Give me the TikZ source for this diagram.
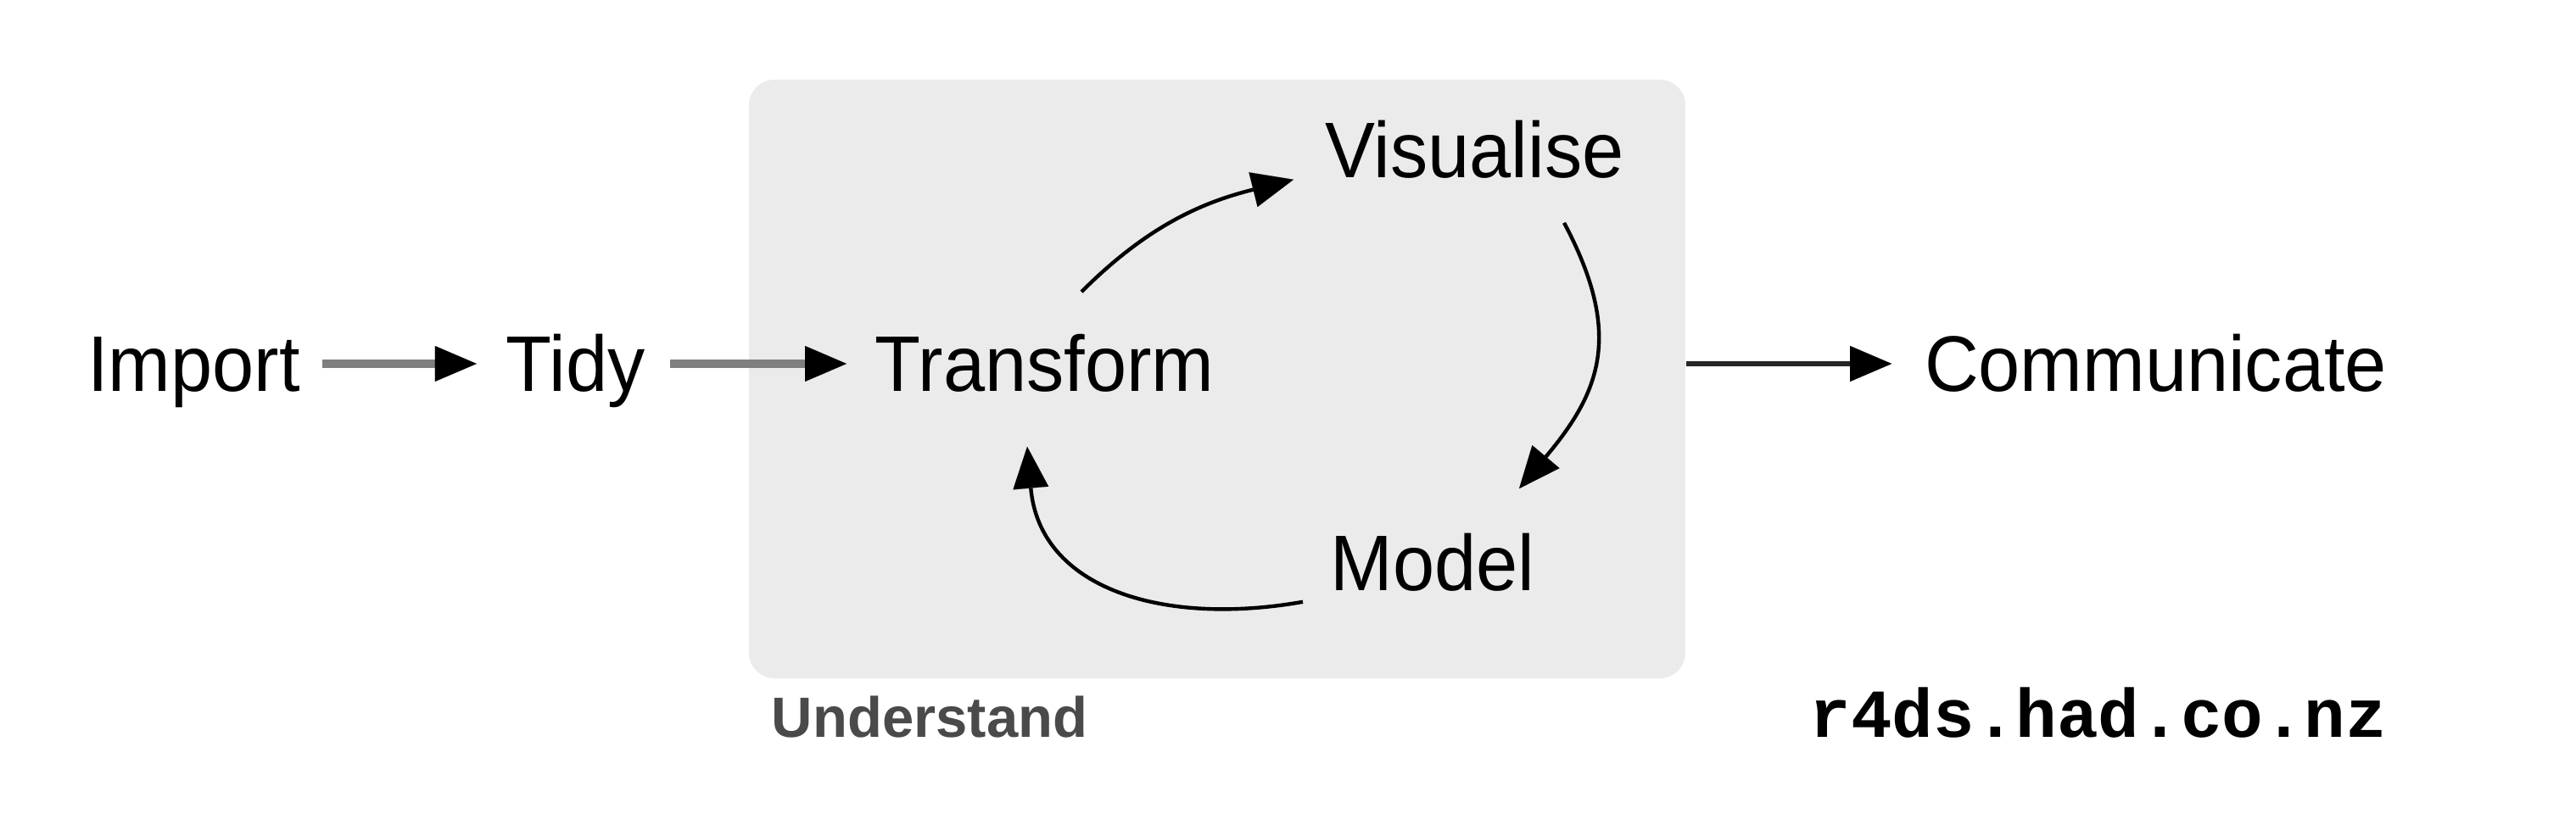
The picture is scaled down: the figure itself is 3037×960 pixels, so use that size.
\documentclass[tikz,border=0pt]{standalone}
\usepackage{fontspec}
\setmainfont{Liberation Sans}
\newfontfamily\stagefont{Liberation Sans}[FakeStretch=0.95]
\newfontfamily\sitefont{Liberation Mono}
\usetikzlibrary{arrows.meta}
\definecolor{boxgray}{HTML}{EBEBEB}
\definecolor{labelgray}{HTML}{4A4A4A}
\definecolor{stemgray}{HTML}{7F7F7F}
\begin{document}
\begin{tikzpicture}[x=0.25pt,y=0.25pt,
  stage/.style={anchor=base, inner sep=0pt, text height=17.5pt, text depth=1pt,
    font=\stagefont\fontsize{23.25}{28}\selectfont, text=black},
  tiphead/.style={-{Triangle[length=12.25pt,width=10.5pt,line width=0.01pt,color=black]}},
  flow/.style={tiphead, draw=stemgray, line width=2.4pt},
  outflow/.style={tiphead, draw=black!85, line width=1.6pt},
  cycle/.style={tiphead, draw=black, line width=1.1pt},
  boxstyle/.style={rectangle, rounded corners=7.5pt, fill=boxgray, draw=none,
    inner sep=0pt, minimum width=276pt, minimum height=176.5pt}]
\useasboundingbox (0,0) rectangle (3037,960);
\fill[white] (0,0) rectangle (3037,960);
\node[boxstyle] (understandbox) at (1435,513) {};
\node[stage] (import) at (228.5,498) {Import};
\node[stage] (tidy) at (678.5,498) {Tidy};
\node[stage] (transform) at (1231.5,498) {Transform};
\node[stage] (visualise) at (1738.5,750) {Visualise};
\node[stage] (model) at (1689,263) {Model};
\node[stage] (communicate) at (2541.5,498) {Communicate};
\node[anchor=base, inner sep=0pt, text=labelgray,
  font=\bfseries\fontsize{16.75}{20}\selectfont] (understand) at (1096,90) {Understand};
\node[anchor=base, inner sep=0pt, text=black,
  font=\sitefont\bfseries\fontsize{20.25}{24}\selectfont] (site) at (2474,90) {r4ds.had.co.nz};
\draw[flow, shorten <=6.5pt, shorten >=8.5pt] (import.east) -- (tidy.west);
\draw[flow, shorten <=7.25pt, shorten >=8.25pt] (tidy.east) -- (transform.west);
\draw[outflow, shorten >=9.5pt] (understandbox.east |- communicate.west) -- (communicate.west);
\draw[cycle] ([shift={(43.5,47)}]transform.north) to[out=45,in=194]
  ([shift={(-213.5,3)}]visualise.south);
\draw[cycle] ([shift={(105.5,-48)}]visualise.south) to[out=-62,in=50,looseness=1.2]
  ([shift={(102,50)}]model.north);
\draw[cycle] ([shift={(-153,-8)}]model.south) to[out=190,in=-85,looseness=1.15]
  ([shift={(-20.5,-60)}]transform.south);
\end{tikzpicture}
\end{document}
